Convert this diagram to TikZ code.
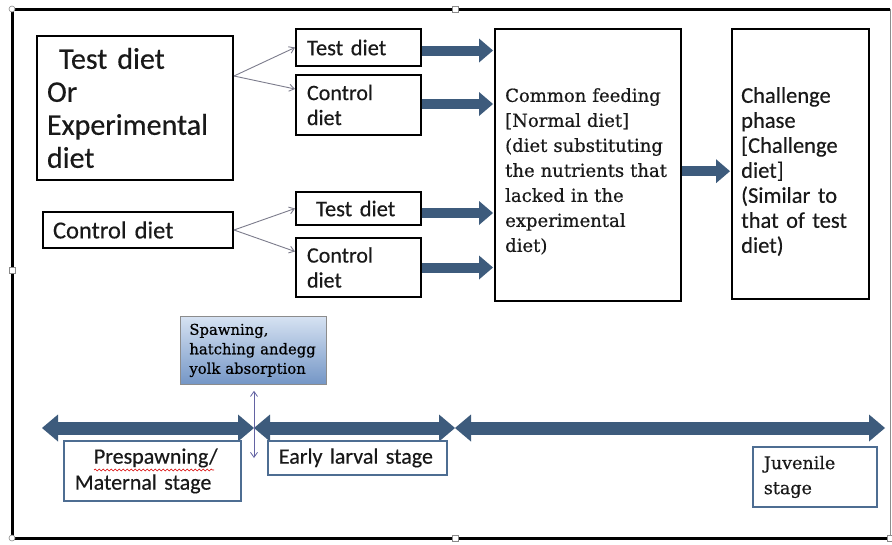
\documentclass[tikz,border=0pt]{standalone}
\usepackage{fontspec}
\setmainfont{Carlito}[FakeBold=0.4]
\newfontfamily\serifx{DejaVu Serif}[FakeBold=0.6]
\usetikzlibrary{arrows.meta,decorations.pathmorphing,calc}
\definecolor{arrowblue}{HTML}{3D5B7C}
\definecolor{boxblue}{HTML}{4D6D92}
\definecolor{thingray}{HTML}{7C7C8C}
\definecolor{sptop}{HTML}{D6E2F2}
\definecolor{spbot}{HTML}{7496C6}
\definecolor{handlegray}{HTML}{8A8A8A}
\begin{document}
\begin{tikzpicture}[x=1pt,y=-1pt,
  blackbox/.style={draw=black, line width=2pt, anchor=north west, align=left, inner ysep=0pt, text=black!90},
  bluebox/.style={draw=boxblue, line width=1.8pt, anchor=north west, align=left, inner ysep=0pt, text=black!90},
  plaintext/.style={anchor=north west, align=left, inner sep=0pt, text=black!90},
  thinarrow/.style={draw=thingray, line width=0.9pt, -{Straight Barb[length=5pt,width=7pt]}},
  blockarrow/.style={draw=arrowblue, line width=10pt, -{Triangle[length=14pt,width=24pt,line width=0pt]}},
  timeline/.style={draw=arrowblue, line width=13pt, {Triangle[length=16pt,width=27pt,line width=0pt]}-{Triangle[length=16pt,width=27pt,line width=0pt]}},
  handle/.style={draw=handlegray, fill=white, line width=0.6pt}
]
\useasboundingbox (0,0) rectangle (892,544);
\fill[white] (0,0) rectangle (892,544);

% frame
\draw[black, line width=3pt] (12,538) -- (12,9) -- (890,9);
\draw[black, line width=3pt] (12,538) -- (890,538);
\draw[black!45, line width=1pt] (890,9) -- (890,538);
\draw[handle] (12,9) circle (3);
\draw[handle] (12,538) circle (3);
\draw[handle] (452,6) rectangle (458,12);
\draw[handle] (9,267) rectangle (15,273);
\draw[handle] (452,535) rectangle (458,541);
\draw[handle] (887,535) rectangle (893,541);

% left boxes
\node[blackbox, minimum width=196, minimum height=144, inner xsep=10pt, text width=176pt,
  font=\fontsize{30}{33}\selectfont] (A) at (36,35)
  {\hspace*{12pt}Test diet\\Or\\Experimental\\diet};
\node[blackbox, minimum width=190, minimum height=36, inner xsep=10pt, text width=170pt,
  font=\fontsize{24.5}{28}\selectfont] (B) at (42,211) {Control diet};

% small boxes
\node[blackbox, minimum width=125, minimum height=37, inner xsep=11pt, text width=103pt,
  font=\fontsize{22.5}{25}\selectfont] (T1) at (295,28) {Test diet};
\node[blackbox, minimum width=125, minimum height=60, inner xsep=11pt, text width=103pt,
  font=\fontsize{22}{25}\selectfont] (C1) at (295,74) {Control\\diet};
\node[blackbox, minimum width=125, minimum height=33, inner xsep=11pt, text width=103pt,
  font=\fontsize{22.5}{25}\selectfont] (T2) at (295,191) {\hspace*{9pt}Test diet};
\node[blackbox, minimum width=125, minimum height=59, inner xsep=11pt, text width=103pt,
  font=\fontsize{22}{25}\selectfont] (C2) at (295,237) {Control\\diet};

% big boxes
\node[blackbox, line width=2.4pt, minimum width=186, minimum height=272] (com) at (494,28) {};
\node[plaintext, text width=175pt, font=\serifx\fontsize{18}{25}\selectfont] (comtext) at (505,88)
  {Common feeding\\{}[Normal diet]\\(diet substituting\\the nutrients that\\lacked in the\\experimental\\diet)};
\node[blackbox, line width=2.4pt, minimum width=137, minimum height=270] (chal) at (731,28) {};
\node[plaintext, text width=125pt, font=\fontsize{22.5}{25}\selectfont] (chaltext) at (741,87)
  {Challenge\\phase\\{}[Challenge\\diet]\\(Similar to\\that of test\\diet)};

% thin connectors
\draw[thinarrow] ([yshift=32pt]A.east) -- (T1.west);
\draw[thinarrow] ([yshift=32pt]A.east) -- ([yshift=16pt]C1.west);
\draw[thinarrow] (B.east) -- (T2.west);
\draw[thinarrow] (B.east) -- ([yshift=16pt]C2.west);

% block arrows
\draw[blockarrow, shorten >=1pt] ([yshift=-3pt]T1.east) -- ([yshift=-3pt]T1.east -| com.west);
\draw[blockarrow, shorten >=1pt] ([yshift=1pt]C1.east) -- ([yshift=1pt]C1.east -| com.west);
\draw[blockarrow, shorten >=1pt] ([yshift=-4.5pt]T2.east) -- ([yshift=-4.5pt]T2.east -| com.west);
\draw[blockarrow, shorten >=1pt] (C2.east) -- (C2.east -| com.west);
\draw[blockarrow, shorten >=1pt] ([yshift=-6pt]com.east) -- ([yshift=-6pt]com.east -| chal.west);

% spawning box
\node[anchor=north west, draw=black!45, line width=0.8pt, top color=sptop, bottom color=spbot,
  minimum width=146, minimum height=68, inner xsep=9pt, text width=128pt, align=left,
  font=\serifx\fontsize{14.8}{19.5}\selectfont, text=black] (sp) at (180,316)
  {Spawning,\\hatching andegg\\yolk absorption};

% timeline
\coordinate (t0) at (42,428);
\coordinate (t1) at (254,428);
\coordinate (t2) at (455,428);
\coordinate (t3) at (885,428);
\draw[timeline] (t0) -- (t1);
\draw[timeline] (t1) -- (t2);
\draw[timeline] (t2) -- (t3);

\coordinate (v1) at (254,458);
\draw[draw=thingray!80!blue, line width=0.8pt, {Straight Barb[length=5pt,width=7pt]}-{Straight Barb[length=5pt,width=7pt]}, shorten <=6pt] (sp.south -| t1) -- (v1);

% stage boxes
\node[bluebox, minimum width=177, minimum height=60, inner xsep=11pt, text width=155pt,
  font=\fontsize{22}{26}\selectfont] (pre) at (63,440)
  {\hspace*{19pt}Prespawning/\\Maternal stage};
\draw[red!85!black, line width=0.6pt, decorate, decoration={snake, amplitude=0.9pt, segment length=4pt}]
  (94,470) -- (214,470);
\node[bluebox, minimum width=179, minimum height=34, inner xsep=11pt, text width=157pt,
  font=\fontsize{22}{26}\selectfont] (early) at (267,440) {Early larval stage};
\node[bluebox, minimum width=124, minimum height=60, inner xsep=11pt, text width=102pt,
  font=\serifx\fontsize{17.5}{25}\selectfont] (juv) at (752,446) {Juvenile\\stage};
\end{tikzpicture}
\end{document}
